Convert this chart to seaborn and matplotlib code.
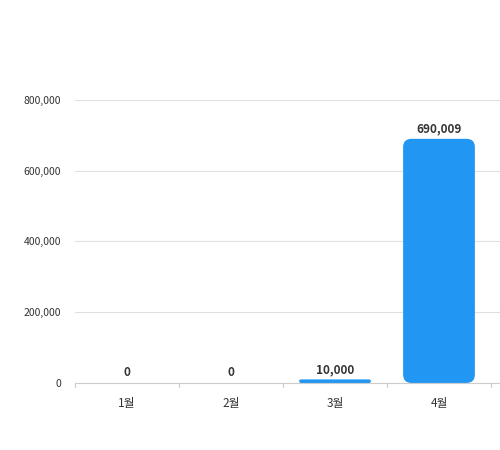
import matplotlib
matplotlib.use("Agg")
import matplotlib.pyplot as plt
import seaborn as sns
import pandas as pd
from matplotlib.patches import FancyBboxPatch

months = ["1월", "2월", "3월", "4월"]
values = [0, 0, 10000, 690009]

sns.set_style("white")
plt.rcParams['font.family'] = ['Noto Sans CJK KR', 'DejaVu Sans']

df = pd.DataFrame({"month": months, "value": values})

fig = plt.figure(figsize=(5, 4.5), dpi=100)
ax = fig.add_axes([0.15, 0.149, 1.04, 0.629])
sns.barplot(data=df, x="month", y="value", color="#2196f3", width=0.69, ax=ax)

# rounded tops
aspect = 800000 / 283 * 104
for p in list(ax.patches):
    x, y, w, h = p.get_x(), p.get_y(), p.get_width(), p.get_height()
    if h > 0:
        r = min(0.08, h / aspect / 2)
        ax.add_patch(FancyBboxPatch((x, y), w, h,
                                    boxstyle=f"round,pad=0,rounding_size={r}",
                                    mutation_aspect=aspect,
                                    fc="#2196f3", ec="none", zorder=3))
    p.set_visible(False)

for i, v in enumerate(values):
    ax.text(i, v + 10000, f"{v:,}", ha="center", va="bottom",
            fontsize=8.5, fontweight="bold", color="#333333", zorder=4)

ax.set_xlim(-0.5, 4.5)
ax.set_ylim(0, 800000)
ax.set_yticks([0, 200000, 400000, 600000, 800000])
ax.set_yticklabels([f"{t:,}" for t in [0, 200000, 400000, 600000, 800000]],
                   fontsize=7.5, color="#333333")
ax.yaxis.grid(True, color="#e0e0e0", lw=0.8)
ax.set_axisbelow(True)
ax.set_xlabel("")
ax.set_ylabel("")
ax.tick_params(axis="x", labelsize=8.5, colors="#333333", length=0, pad=10)
ax.tick_params(axis="y", length=0, pad=10)
for s in ["top", "right", "left"]:
    ax.spines[s].set_visible(False)
ax.spines["bottom"].set_color("#cccccc")
for xb in [-0.5, 0.5, 1.5, 2.5, 3.5]:
    ax.plot([xb, xb], [0, -12000], color="#cccccc", lw=0.8, clip_on=False)

fig.savefig("out.png")
